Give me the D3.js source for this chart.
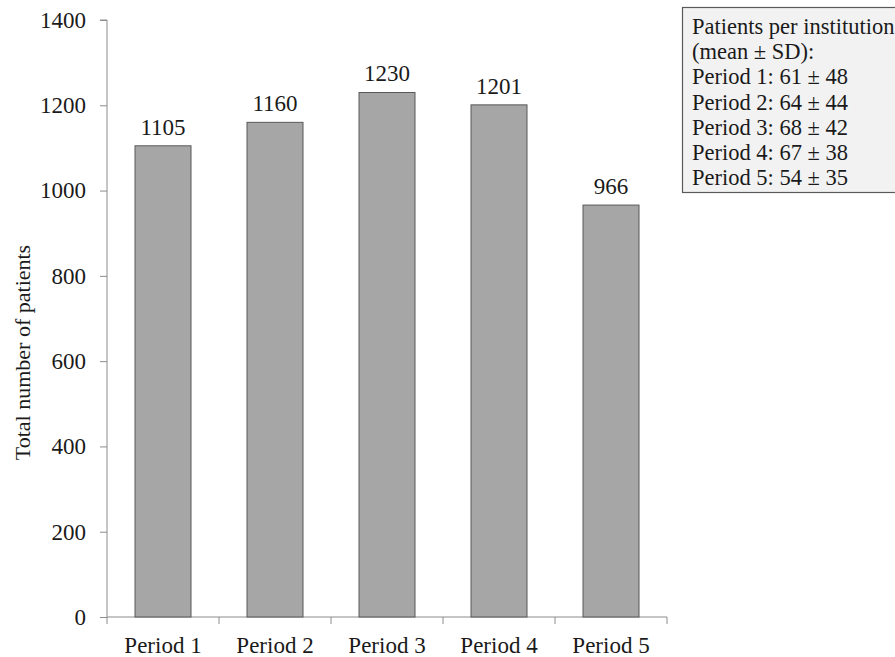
<!DOCTYPE html>
<html>
<head>
<meta charset="utf-8">
<script src="https://cdn.jsdelivr.net/npm/d3@7"></script>
<style>
  body { margin: 0; background: #fff; }
</style>
</head>
<body>
<svg id="chart" width="895" height="657"></svg>
<script>
const categories = ["Period 1", "Period 2", "Period 3", "Period 4", "Period 5"];
const totals = [1105, 1160, 1230, 1201, 966];
const yTicks = [0, 200, 400, 600, 800, 1000, 1200, 1400];
const yLabel = "Total number of patients";
const legendLines = [
  "Patients per institution",
  "(mean \u00B1 SD):",
  "Period 1: 61 \u00B1 48",
  "Period 2: 64 \u00B1 44",
  "Period 3: 68 \u00B1 42",
  "Period 4: 67 \u00B1 38",
  "Period 5: 54 \u00B1 35"
];

const svg = d3.select("#chart");
const pLeft = 107, pRight = 667, pTop = 20, pBottom = 617;
const fs = 23;
const fsLegend = 22.5;
const FONT = "'Liberation Serif', 'Times New Roman', Times, serif";
const axisColor = "#8c8c8c";
const textColor = "#1a1a1a";

const x = d3.scaleBand().domain(categories).range([pLeft, pRight]).paddingInner(0.5).paddingOuter(0.25);
const y = d3.scaleLinear().domain([0, 1400]).range([pBottom, pTop]);

// Y axis
const yAxis = svg.append("g").attr("transform", `translate(${pLeft},0)`)
  .call(d3.axisLeft(y).tickValues(yTicks).tickSize(7).tickPadding(14).tickFormat(d3.format("d")));
yAxis.attr("font-family", FONT).attr("font-size", fs);
yAxis.select(".domain").attr("stroke", axisColor).attr("d", `M-7,${pTop}H0V${pBottom}`);
yAxis.selectAll(".tick line").attr("stroke", axisColor);
yAxis.selectAll(".tick text").attr("fill", textColor);

// X axis (band boundaries as ticks)
const xg = svg.append("g");
xg.append("line").attr("x1", pLeft).attr("x2", pRight).attr("y1", pBottom).attr("y2", pBottom).attr("stroke", axisColor);
const bounds = d3.range(categories.length + 1).map(i => pLeft + i * ((pRight - pLeft) / categories.length));
xg.selectAll("line.xt").data(bounds).join("line").attr("class", "xt")
  .attr("x1", d => d).attr("x2", d => d).attr("y1", pBottom).attr("y2", pBottom + 7).attr("stroke", axisColor);
xg.selectAll("text").data(categories).join("text")
  .attr("x", d => x(d) + x.bandwidth() / 2).attr("y", pBottom + 36)
  .attr("text-anchor", "middle").attr("font-family", FONT).attr("font-size", fs).attr("fill", textColor).text(d => d);

// Bars
svg.append("g").selectAll("rect").data(categories).join("rect")
  .attr("x", d => x(d)).attr("width", x.bandwidth())
  .attr("y", (d, i) => y(totals[i])).attr("height", (d, i) => pBottom - y(totals[i]))
  .attr("fill", "#a6a6a6").attr("stroke", "#595959").attr("stroke-width", 1);

// Value labels
svg.append("g").selectAll("text").data(categories).join("text")
  .attr("x", d => x(d) + x.bandwidth() / 2).attr("y", (d, i) => y(totals[i]) - 11)
  .attr("text-anchor", "middle").attr("font-family", FONT).attr("font-size", fs).attr("fill", textColor).text((d, i) => totals[i]);

// Y label
svg.append("text").attr("transform", `translate(30,${(pTop + pBottom) / 2 + 34}) rotate(-90)`)
  .attr("text-anchor", "middle").attr("font-family", FONT).attr("font-size", fs - 1).attr("fill", textColor).text(yLabel);

// Legend box
const lg = svg.append("g");
lg.append("rect").attr("x", 682.5).attr("y", 7.5).attr("width", 230).attr("height", 185)
  .attr("fill", "#f2f2f2").attr("stroke", "#595959").attr("stroke-width", 1.2);
lg.selectAll("text").data(legendLines).join("text")
  .attr("x", 692).attr("y", (d, i) => 34 + i * 25.2)
  .attr("font-family", FONT).attr("font-size", fsLegend).attr("fill", textColor).text(d => d);
</script>
</body>
</html>
